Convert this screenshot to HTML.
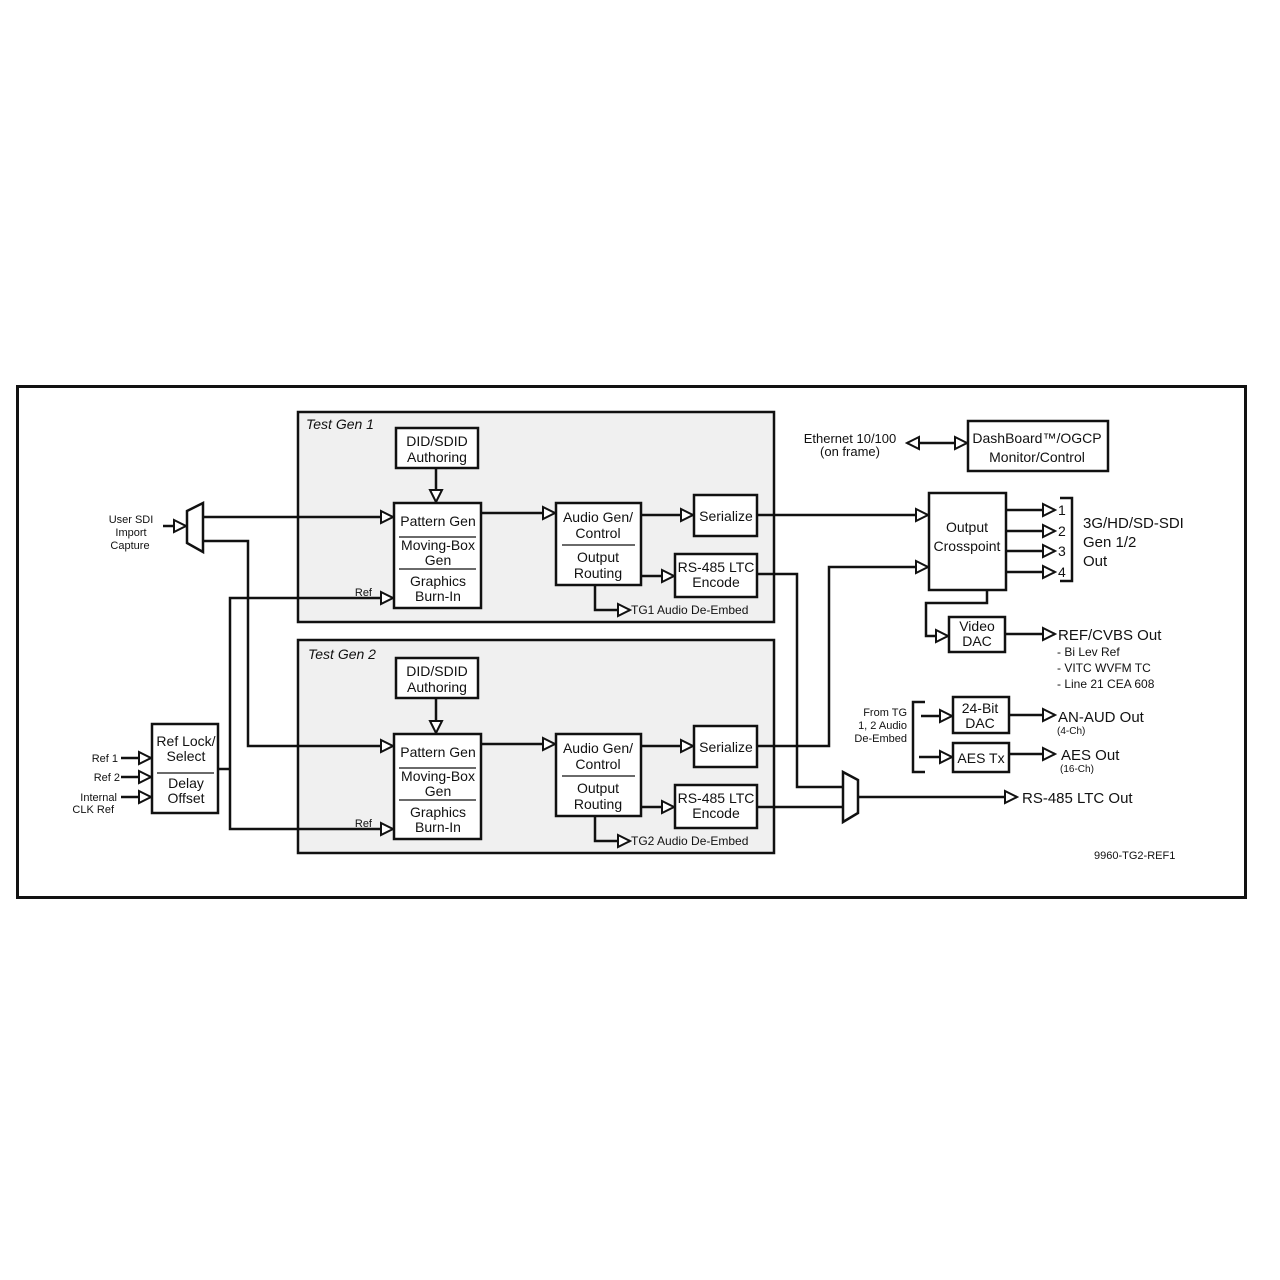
<!DOCTYPE html>
<html><head><meta charset="utf-8"><style>
html,body{margin:0;padding:0;background:#fff;}
svg{display:block;}
text{font-family:"Liberation Sans",sans-serif;fill:#111;}
</style></head><body>
<svg width="1280" height="1280" viewBox="0 0 1280 1280" xmlns="http://www.w3.org/2000/svg">
<defs>
<marker id="a" viewBox="0 0 16 16" refX="14" refY="8" markerWidth="16" markerHeight="16" markerUnits="userSpaceOnUse" orient="auto">
<path d="M2,2 L14,8 L2,14 Z" fill="#fff" stroke="#111" stroke-width="2"/>
</marker>
<marker id="b" viewBox="0 0 16 16" refX="2" refY="8" markerWidth="16" markerHeight="16" markerUnits="userSpaceOnUse" orient="auto">
<path d="M14,2 L2,8 L14,14 Z" fill="#fff" stroke="#111" stroke-width="2"/>
</marker>
</defs>
<rect x="17.5" y="386.5" width="1228" height="511" fill="#fff" stroke="#111" stroke-width="3"/>
<rect x="298" y="412" width="476" height="210" fill="#f0f0f0" stroke="#111" stroke-width="2.5"/>
<rect x="298" y="640" width="476" height="213" fill="#f0f0f0" stroke="#111" stroke-width="2.5"/>
<text x="306" y="429" font-size="14" font-style="italic">Test Gen 1</text>
<text x="308" y="659" font-size="14" font-style="italic">Test Gen 2</text>

<g fill="#fff" stroke="#111" stroke-width="2.5">
<rect x="396" y="428" width="82" height="40"/>
<rect x="394" y="503" width="87" height="105"/>
<rect x="556" y="503" width="85" height="82"/>
<rect x="694" y="495" width="63" height="41"/>
<rect x="675" y="554" width="82" height="43"/>
<rect x="396" y="658" width="82" height="40"/>
<rect x="394" y="734" width="87" height="105"/>
<rect x="556" y="734" width="85" height="82"/>
<rect x="694" y="726" width="63" height="41"/>
<rect x="675" y="785" width="82" height="43"/>
<rect x="152" y="724" width="66" height="89"/>
<rect x="929" y="493" width="77" height="97"/>
<rect x="949" y="617" width="56" height="35"/>
<rect x="968" y="421" width="140" height="50"/>
<rect x="953" y="697" width="56" height="36"/>
<rect x="953" y="743" width="56" height="29"/>
<polygon points="187,511 203,503 203,552 187,543"/>
<polygon points="843,772 858,780 858,813 843,822"/>
</g>
<g stroke="#111" stroke-width="1.2">
<line x1="399" y1="537" x2="476" y2="537"/><line x1="399" y1="569" x2="476" y2="569"/>
<line x1="399" y1="768" x2="476" y2="768"/><line x1="399" y1="800" x2="476" y2="800"/>
<line x1="562" y1="545" x2="635" y2="545"/><line x1="562" y1="776" x2="635" y2="776"/>
<line x1="157" y1="773" x2="214" y2="773"/>
</g>

<g fill="none" stroke="#111" stroke-width="2.5">
<line x1="436" y1="468" x2="436" y2="502" marker-end="url(#a)"/>
<line x1="436" y1="698" x2="436" y2="733" marker-end="url(#a)"/>
<line x1="163" y1="526" x2="186" y2="526" marker-end="url(#a)"/>
<line x1="203" y1="517" x2="393" y2="517" marker-end="url(#a)"/>
<polyline points="203,541 248,541 248,746 393,746" marker-end="url(#a)"/>
<line x1="218" y1="769" x2="230" y2="769"/>
<polyline points="230,769 230,598 393,598" marker-end="url(#a)"/>
<polyline points="230,769 230,829 393,829" marker-end="url(#a)"/>
<line x1="121" y1="758" x2="151" y2="758" marker-end="url(#a)"/>
<line x1="121" y1="777" x2="151" y2="777" marker-end="url(#a)"/>
<line x1="121" y1="797" x2="151" y2="797" marker-end="url(#a)"/>
<line x1="481" y1="513" x2="555" y2="513" marker-end="url(#a)"/>
<line x1="481" y1="744" x2="555" y2="744" marker-end="url(#a)"/>
<line x1="641" y1="515" x2="693" y2="515" marker-end="url(#a)"/>
<line x1="641" y1="746" x2="693" y2="746" marker-end="url(#a)"/>
<line x1="641" y1="576" x2="674" y2="576" marker-end="url(#a)"/>
<line x1="641" y1="807" x2="674" y2="807" marker-end="url(#a)"/>
<polyline points="595,585 595,610 630,610" marker-end="url(#a)"/>
<polyline points="595,816 595,841 630,841" marker-end="url(#a)"/>
<line x1="757" y1="515" x2="928" y2="515" marker-end="url(#a)"/>
<polyline points="757,746 829,746 829,567 928,567" marker-end="url(#a)"/>
<polyline points="757,574 797,574 797,787 843,787"/>
<line x1="757" y1="807" x2="843" y2="807"/>
<line x1="858" y1="797" x2="1017" y2="797" marker-end="url(#a)"/>
<line x1="1006" y1="510" x2="1055" y2="510" marker-end="url(#a)"/>
<line x1="1006" y1="531" x2="1055" y2="531" marker-end="url(#a)"/>
<line x1="1006" y1="551" x2="1055" y2="551" marker-end="url(#a)"/>
<line x1="1006" y1="572" x2="1055" y2="572" marker-end="url(#a)"/>
<polyline points="1060,498 1072,498 1072,581 1060,581"/>
<polyline points="987,590 987,603 926,603 926,636 948,636" marker-end="url(#a)"/>
<line x1="1005" y1="634" x2="1055" y2="634" marker-end="url(#a)"/>
<line x1="907" y1="443" x2="967" y2="443" marker-start="url(#b)" marker-end="url(#a)"/>
<polyline points="925,702 913,702 913,772 925,772"/>
<line x1="921" y1="716" x2="952" y2="716" marker-end="url(#a)"/>
<line x1="919" y1="757" x2="952" y2="757" marker-end="url(#a)"/>
<line x1="1009" y1="715" x2="1055" y2="715" marker-end="url(#a)"/>
<line x1="1009" y1="754" x2="1055" y2="754" marker-end="url(#a)"/>
</g>

<g font-size="14" text-anchor="middle">
<text x="437" y="446">DID/SDID</text><text x="437" y="462">Authoring</text>
<text x="437" y="676">DID/SDID</text><text x="437" y="692">Authoring</text>
<text x="438" y="526">Pattern Gen</text><text x="438" y="550">Moving-Box</text><text x="438" y="565">Gen</text>
<text x="438" y="586">Graphics</text><text x="438" y="601">Burn-In</text>
<text x="438" y="757">Pattern Gen</text><text x="438" y="781">Moving-Box</text><text x="438" y="796">Gen</text>
<text x="438" y="817">Graphics</text><text x="438" y="832">Burn-In</text>
<text x="598" y="522">Audio Gen/</text><text x="598" y="538">Control</text>
<text x="598" y="562">Output</text><text x="598" y="578">Routing</text>
<text x="598" y="753">Audio Gen/</text><text x="598" y="769">Control</text>
<text x="598" y="793">Output</text><text x="598" y="809">Routing</text>
<text x="726" y="521">Serialize</text><text x="726" y="752">Serialize</text>
<text x="716" y="572">RS-485 LTC</text><text x="716" y="587">Encode</text>
<text x="716" y="803">RS-485 LTC</text><text x="716" y="818">Encode</text>
<text x="186" y="746">Ref Lock/</text><text x="186" y="761">Select</text>
<text x="186" y="788">Delay</text><text x="186" y="803">Offset</text>
<text x="967" y="532">Output</text><text x="967" y="551">Crosspoint</text>
<text x="977" y="631">Video</text><text x="977" y="646">DAC</text>
<text x="1037" y="443">DashBoard™/OGCP</text><text x="1037" y="462">Monitor/Control</text>
<text x="980" y="713">24-Bit</text><text x="980" y="728">DAC</text>
<text x="981" y="763">AES Tx</text>
<text x="850" y="443" font-size="13">Ethernet 10/100</text><text x="850" y="456" font-size="13">(on frame)</text>
</g>
<g font-size="11" text-anchor="middle">
<text x="131" y="523">User SDI</text><text x="131" y="536">Import</text><text x="130" y="549">Capture</text>
</g>
<g font-size="11" text-anchor="end">
<text x="118" y="762">Ref 1</text><text x="120" y="781">Ref 2</text>
<text x="117" y="801">Internal</text><text x="114" y="813">CLK Ref</text>
<text x="907" y="716">From TG</text><text x="907" y="729">1, 2 Audio</text><text x="907" y="742">De-Embed</text>
<text x="372" y="596">Ref</text><text x="372" y="827">Ref</text>
</g>
<g font-size="12">
<text x="631" y="614">TG1 Audio De-Embed</text>
<text x="631" y="845">TG2 Audio De-Embed</text>
<text x="1057" y="656">- Bi Lev Ref</text>
<text x="1057" y="672">- VITC WVFM TC</text>
<text x="1057" y="688">- Line 21 CEA 608</text>
<text x="1094" y="859" font-size="11">9960-TG2-REF1</text>
<text x="1057" y="734" font-size="10">(4-Ch)</text>
<text x="1060" y="772" font-size="10">(16-Ch)</text>
</g>
<g font-size="14">
<text x="1058" y="515">1</text><text x="1058" y="536">2</text><text x="1058" y="556">3</text><text x="1058" y="577">4</text>
</g>
<g font-size="15">
<text x="1083" y="528">3G/HD/SD-SDI</text><text x="1083" y="547">Gen 1/2</text><text x="1083" y="566">Out</text>
<text x="1058" y="640">REF/CVBS Out</text>
<text x="1058" y="722">AN-AUD Out</text>
<text x="1061" y="760">AES Out</text>
<text x="1022" y="803">RS-485 LTC Out</text>
</g>
</svg>
</body></html>
